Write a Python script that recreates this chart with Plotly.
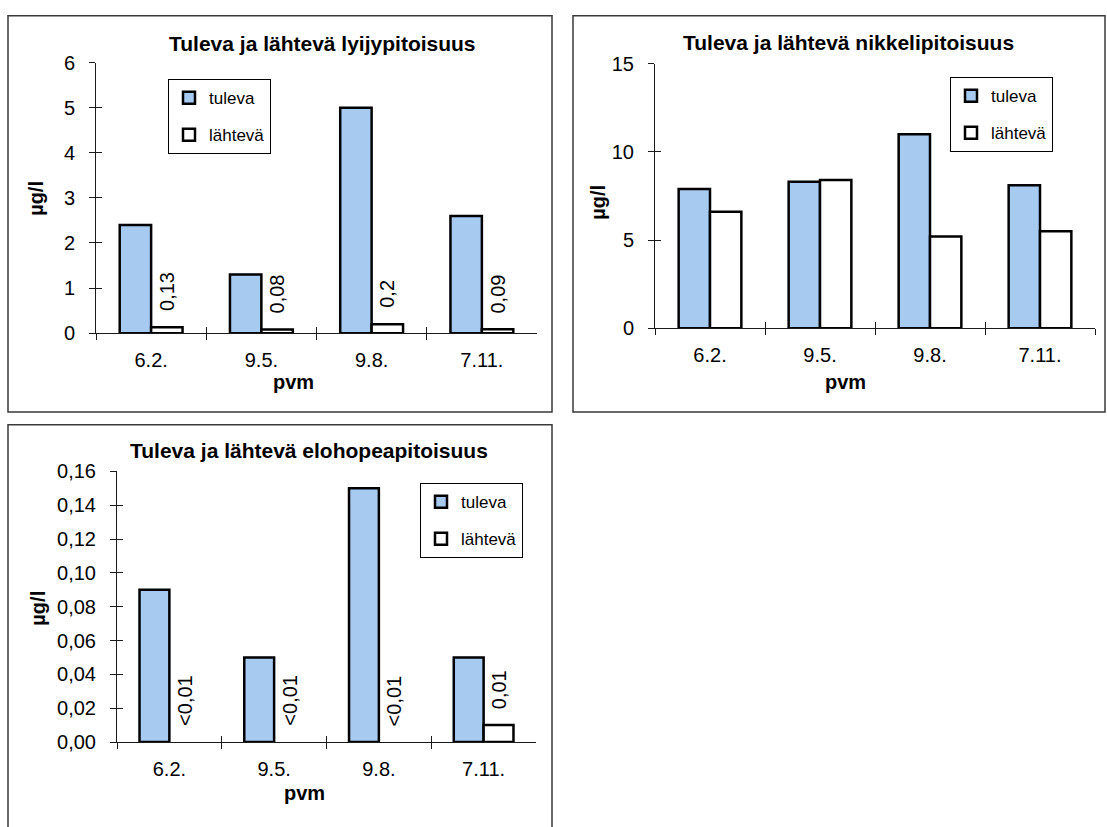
import plotly.graph_objects as go

W, H = 1107, 827

# ---- data -------------------------------------------------------------
paivat = ["6.2.", "9.5.", "9.8.", "7.11."]

lyijy_tuleva = [2.4, 1.3, 5.0, 2.6]
lyijy_lahteva = [0.13, 0.08, 0.2, 0.09]
lyijy_lahteva_teksti = ["0,13", "0,08", "0,2", "0,09"]

nikkeli_tuleva = [7.9, 8.3, 11.0, 8.1]
nikkeli_lahteva = [6.6, 8.4, 5.2, 5.5]

elohopea_tuleva = [0.09, 0.05, 0.15, 0.05]
elohopea_lahteva = [None, None, None, 0.01]
elohopea_lahteva_teksti = ["&lt;0,01", "&lt;0,01", "&lt;0,01", "0,01"]

otsikot = [
    "Tuleva ja lähtevä lyijypitoisuus",
    "Tuleva ja lähtevä nikkelipitoisuus",
    "Tuleva ja lähtevä elohopeapitoisuus",
]

# ---- styling ----------------------------------------------------------
FONT = "Liberation Sans, Arial, sans-serif"
BLUE = "#A6CAF0"
AXIS = "#1a1a1a"


def px(x):
    return x / W


def py(y):
    return 1 - y / H


panels = [
    dict(n=1, ov=4, xdom=(96, 537), ydom=(331, 53), yrange=[0, 6], dtick=1, fmt="d",
         tuleva=lyijy_tuleva, lahteva=lyijy_lahteva, teksti=lyijy_lahteva_teksti,
         title=otsikot[0], title_xy=(322, 33), ytitle_xy=(36, 193), xtitle_xy=(293, 381),
         legend_xy=(168, 70), box=(8, 5, 552, 412), lab_dx=16),
    dict(n=2, ov=5, xdom=(655, 1095), ydom=(326, 54), yrange=[0, 15], dtick=5, fmt="d",
         tuleva=nikkeli_tuleva, lahteva=nikkeli_lahteva, teksti=None,
         title=otsikot[1], title_xy=(848, 32), ytitle_xy=(598, 197), xtitle_xy=(845, 381),
         legend_xy=(950, 68), box=(573, 5, 1105, 412), lab_dx=16),
    dict(n=3, ov=6, xdom=(117, 536), ydom=(751, 473), yrange=[0, 0.16], dtick=0.02, fmt=".2f",
         tuleva=elohopea_tuleva, lahteva=elohopea_lahteva, teksti=elohopea_lahteva_teksti,
         title=otsikot[2], title_xy=(309, 451), ytitle_xy=(38, 614), xtitle_xy=(304, 803),
         legend_xy=(420, 485), box=(8, 425, 552, 860), lab_dx=15),
]

fig = go.Figure()
layout = dict(
    width=W, height=H, margin=dict(l=0, r=0, t=0, b=0),
    paper_bgcolor="white", plot_bgcolor="white",
    separators=", ", bargap=0.43, bargroupgap=0, barmode="group",
    font=dict(family=FONT, color="black", size=20),
    showlegend=True,
)
annotations = []
shapes = []

for p in panels:
    n, ov = p["n"], p["ov"]
    sfx = "" if n == 1 else str(n)
    xa, ya = "x" + sfx, "y" + sfx
    xo, yo = "x" + str(ov), "y" + str(ov)
    leg = "legend" + sfx

    fig.add_trace(go.Bar(
        x=paivat, y=p["tuleva"], name="tuleva", xaxis=xa, yaxis=ya,
        marker=dict(color=BLUE, line=dict(color="black", width=2.5)),
        legend=leg, legendgroup=f"t{n}", hoverinfo="skip",
    ))
    fig.add_trace(go.Bar(
        x=paivat, y=p["lahteva"], name="lähtevä", xaxis=xa, yaxis=ya,
        marker=dict(color="white", line=dict(color="black", width=2.5)),
        legend=leg, legendgroup=f"l{n}", hoverinfo="skip",
    ))
    # empty trace so the overlay axes (inner half of the crossing ticks) get drawn
    fig.add_trace(go.Scatter(x=[None], y=[None], xaxis=xo, yaxis=yo,
                             showlegend=False, hoverinfo="skip"))

    xdom = [px(p["xdom"][0]), px(p["xdom"][1])]
    ydom = [py(p["ydom"][0]), py(p["ydom"][1])]

    layout["xaxis" + sfx] = dict(
        domain=xdom, anchor=ya, type="category", categoryorder="array",
        categoryarray=paivat, range=[-0.5, 3.5],
        tickson="boundaries", ticks="outside", ticklen=6, tickwidth=1, tickcolor=AXIS,
        showline=True, linecolor=AXIS, linewidth=1, showgrid=False, zeroline=False,
        tickfont=dict(size=20), ticklabelstandoff=9,
    )
    layout["yaxis" + sfx] = dict(
        domain=ydom, anchor=xa, range=p["yrange"], tickmode="linear", tick0=0,
        dtick=p["dtick"], tickformat=p["fmt"], ticks="outside", ticklen=6, tickwidth=1,
        tickcolor=AXIS, showline=True, linecolor=AXIS, linewidth=1, showgrid=False,
        zeroline=False, tickfont=dict(size=20), ticklabelstandoff=10,
    )
    layout["xaxis" + str(ov)] = dict(
        overlaying=xa, anchor=yo, range=[-0.5, 3.5], tickmode="linear", tick0=-0.5,
        dtick=1, ticks="inside", ticklen=6, tickwidth=1, tickcolor=AXIS,
        showticklabels=False, showline=False, showgrid=False, zeroline=False,
    )
    layout["yaxis" + str(ov)] = dict(
        overlaying=ya, anchor=xo, range=p["yrange"], tickmode="linear", tick0=0,
        dtick=p["dtick"], ticks="inside", ticklen=6, tickwidth=1, tickcolor=AXIS,
        showticklabels=False, showline=False, showgrid=False, zeroline=False,
    )

    layout[leg] = dict(
        x=px(p["legend_xy"][0]), y=py(p["legend_xy"][1]), xanchor="left", yanchor="top",
        bgcolor="white", bordercolor="black", borderwidth=1,
        font=dict(size=17), tracegroupgap=12, traceorder="grouped",
    )

    # chart title and axis titles
    annotations.append(dict(
        text=f"<b>{p['title']}</b>", x=px(p["title_xy"][0]), y=py(p["title_xy"][1]),
        xref="paper", yref="paper", showarrow=False, font=dict(size=21),
        xanchor="center", yanchor="middle"))
    annotations.append(dict(
        text="<b>µg/l</b>", x=px(p["ytitle_xy"][0]), y=py(p["ytitle_xy"][1]),
        xref="paper", yref="paper", showarrow=False, textangle=-90, font=dict(size=20),
        xanchor="center", yanchor="middle"))
    annotations.append(dict(
        text="<b>pvm</b>", x=px(p["xtitle_xy"][0]), y=py(p["xtitle_xy"][1]),
        xref="paper", yref="paper", showarrow=False, font=dict(size=20),
        xanchor="center", yanchor="middle"))

    # value labels above the outgoing bars
    if p["teksti"] is not None:
        for cat, val, txt in zip(paivat, p["lahteva"], p["teksti"]):
            annotations.append(dict(
                text=txt, x=cat, y=val if val is not None else 0, xref=xa, yref=ya,
                showarrow=False, textangle=-90, xanchor="center", yanchor="bottom",
                xshift=p["lab_dx"], yshift=14, font=dict(size=20)))

    # chart frame
    x0, y0, x1, y1 = p["box"]
    shapes.append(dict(type="rect", xref="paper", yref="paper",
                       x0=px(x0), x1=px(x1), y0=py(y1), y1=py(y0),
                       line=dict(color="#3a3a3a", width=1.5), layer="below"))

layout["annotations"] = annotations
layout["shapes"] = shapes
fig.update_layout(**layout)

fig.write_html("out.html")
